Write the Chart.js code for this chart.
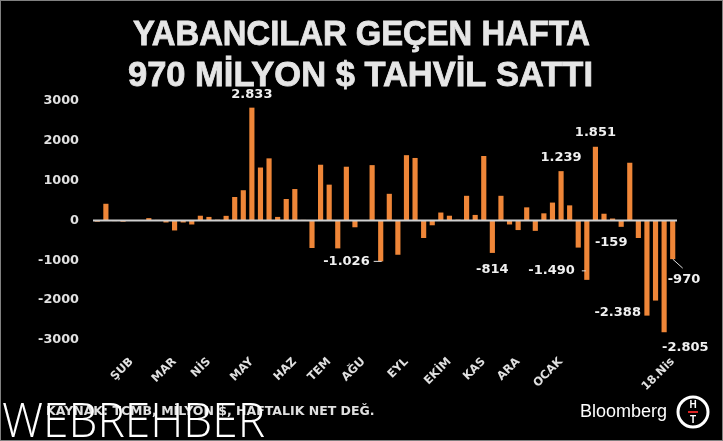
<!DOCTYPE html>
<html>
<head>
<meta charset="utf-8">
<script src="https://cdn.jsdelivr.net/npm/chart.js@4/dist/chart.umd.min.js"></script>
<style>
html,body{margin:0;padding:0;background:#000;}
#wrap{position:relative;width:723px;height:441px;overflow:hidden;background:#000;}
canvas{display:block;}
</style>
</head>
<body>
<div id="wrap"><canvas id="c" width="723" height="441"></canvas></div>
<script>
// ---- DATA ----
const titleLines = ['YABANCILAR GEÇEN HAFTA', '970 MİLYON $ TAHVİL SATTI'];
const sourceText = 'KAYNAK: TCMB, MİLYON $, HAFTALIK NET DEĞ.';
const brandText = 'Bloomberg';
const watermarkText = 'WEBREHBER';

// weekly net flows, million $
const weeklyFlows = [
  -30, 420, -15, -30, 0, 0, 60, 15, -50, -250,
  -50, -100, 120, 90, 20, 117, 590, 760, 2833, 1330,
  1560, 90, 540, 790, 15, -690, 1400, 900, -700, 1350,
  -170, 0, 1390, -1026, 670, -860, 1640, 1570, -440, -120,
  200, 120, 20, 620, 140, 1620, -814, 620, -100, -240,
  330, -260, 180, 450, 1239, 380, -680, -1490, 1851, 170,
  50, -159, 1450, -440, -2388, -2010, -2805, -970
];

// x-axis tick labels (week index -> label)
const tickIndex = [4, 9, 13, 18, 23, 27, 31, 36, 41, 45, 49, 54, 67];
const tickText  = ['ŞUB', 'MAR', 'NİS', 'MAY', 'HAZ', 'TEM', 'AĞU', 'EYL', 'EKİM', 'KAS', 'ARA', 'OCAK', '18.Nis'];

// y-axis ticks
const yTicks = [-3000, -2000, -1000, 0, 1000, 2000, 3000];

// annotated values
const noteIndex = [18, 33, 46, 54, 57, 58, 61, 64, 66, 67];
const noteText  = ['2.833', '-1.026', '-814', '1.239', '-1.490', '1.851', '-159', '-2.388', '-2.805', '-970'];

// ---- build ----
const categories = weeklyFlows.map((_, i) => {
  const k = tickIndex.indexOf(i);
  return k >= 0 ? tickText[k] : '';
});

// label placement styles (relative to bar end)
const notePlace = {
  18: {dx: 0, dy: -13, align: 'center'},
  33: {dx: -11, dy: 0, align: 'right', lead: [[-7, 0], [1, 0]]},
  46: {dx: 0, dy: 17, align: 'center'},
  54: {dx: 0, dy: -14, align: 'center'},
  57: {dx: -12, dy: -9, align: 'right', lead: [[-5, -9], [-1, -9]]},
  58: {dx: 0, dy: -14, align: 'center'},
  61: {dx: -10, dy: 16, align: 'center'},
  64: {dx: -6, dy: -3, align: 'right'},
  66: {dx: -2, dy: 15, align: 'left'},
  67: {dx: -5, dy: 20, align: 'left', lead: [[0, 0], [10, 9]]}
};

const zeroLine = {
  id: 'zeroLine',
  afterDatasetsDraw(chart) {
    const ctx = chart.ctx, y = chart.scales.y.getPixelForValue(0), a = chart.chartArea;
    ctx.save();
    ctx.strokeStyle = '#cfcfcf';
    ctx.lineWidth = 2;
    ctx.beginPath();
    ctx.moveTo(a.left, y);
    ctx.lineTo(a.right, y);
    ctx.stroke();
    ctx.restore();
  }
};

const deco = {
  id: 'deco',
  afterDraw(chart) {
    const ctx = chart.ctx;
    ctx.save();
    // title
    ctx.fillStyle = '#e6e6e6';
    ctx.strokeStyle = '#e6e6e6';
    ctx.lineWidth = 0.8;
    ctx.font = 'bold 35px "Liberation Sans", Arial, sans-serif';
    ctx.textAlign = 'center';
    ctx.textBaseline = 'alphabetic';
    const tW = [457, 465], tX = [361.5, 360.5], tY = [45, 86];
    titleLines.forEach((t, k) => {
      const w = ctx.measureText(t).width;
      ctx.save();
      ctx.translate(tX[k], tY[k]);
      ctx.scale(tW[k] / w, 1);
      ctx.fillText(t, 0, 0);
      ctx.strokeText(t, 0, 0);
      ctx.restore();
    });

    // value notes
    const meta = chart.getDatasetMeta(0);
    ctx.font = 'bold 13px "DejaVu Sans", sans-serif';
    ctx.textBaseline = 'middle';
    ctx.fillStyle = '#f0f0f0';
    ctx.strokeStyle = '#e0e0e0';
    ctx.lineWidth = 1;
    noteIndex.forEach((idx, k) => {
      const el = meta.data[idx];
      const p = notePlace[idx];
      ctx.textAlign = p.align;
      ctx.fillText(noteText[k], el.x + p.dx, el.y + p.dy);
      if (p.lead) {
        ctx.beginPath();
        ctx.moveTo(el.x + p.lead[0][0], el.y + p.lead[0][1]);
        ctx.lineTo(el.x + p.lead[1][0], el.y + p.lead[1][1]);
        ctx.stroke();
      }
    });

    // source
    ctx.textAlign = 'left';
    ctx.fillStyle = '#e0e0e0';
    ctx.font = 'bold 12.5px "DejaVu Sans", sans-serif';
    ctx.fillText(sourceText, 46, 412);

    // Bloomberg
    ctx.fillStyle = '#ffffff';
    ctx.font = '18px "Liberation Sans", Arial, sans-serif';
    ctx.fillText(brandText, 580, 412);

    // HT logo
    ctx.beginPath();
    ctx.arc(693, 412, 15, 0, Math.PI * 2);
    ctx.lineWidth = 3;
    ctx.strokeStyle = '#ffffff';
    ctx.stroke();
    ctx.font = 'bold 10px "Liberation Sans", Arial, sans-serif';
    ctx.textAlign = 'center';
    ctx.fillText('H', 693, 405);
    ctx.fillText('T', 693, 420);
    ctx.fillStyle = '#d22';
    ctx.fillRect(688, 411, 10, 2);

    // watermark
    ctx.fillStyle = '#ffffff';
    ctx.textAlign = 'left';
    ctx.textBaseline = 'alphabetic';
    ctx.font = '300 47px "Open Sans", sans-serif';
    const ww = ctx.measureText(watermarkText).width;
    ctx.save();
    ctx.translate(2, 437);
    ctx.scale(263 / ww, 1);
    ctx.fillText(watermarkText, 0, 0);
    ctx.restore();

    // frame
    ctx.strokeStyle = '#808080';
    ctx.lineWidth = 1;
    ctx.strokeRect(0.5, 0.5, 722, 440);
    ctx.restore();
  }
};

new Chart(document.getElementById('c'), {
  type: 'bar',
  data: {
    labels: categories,
    datasets: [{
      data: weeklyFlows,
      backgroundColor: '#EF8638',
      borderWidth: 0,
      barPercentage: 0.6,
      categoryPercentage: 1.0
    }]
  },
  options: {
    responsive: false,
    animation: false,
    devicePixelRatio: 1,
    layout: {padding: {top: 101, right: 46, bottom: 41, left: 0}},
    plugins: {legend: {display: false}, tooltip: {enabled: false}, title: {display: false}},
    scales: {
      x: {
        grid: {display: false, drawTicks: false},
        border: {display: false},
        ticks: {
          autoSkip: false, minRotation: 45, maxRotation: 45,
          color: '#e0e0e0', padding: 15,
          font: {family: '"DejaVu Sans", sans-serif', weight: 'bold', size: 11.5}
        },
        afterFit(s) { s.height = 60; }
      },
      y: {
        min: yTicks[0], max: yTicks[yTicks.length - 1],
        afterBuildTicks(s) { s.ticks = yTicks.map(v => ({value: v})); },
        ticks: {
          color: '#e0e0e0', padding: 14,
          font: {family: '"DejaVu Sans", sans-serif', weight: 'bold', size: 12.8},
          callback: v => String(v)
        },
        grid: {display: false, drawTicks: false},
        border: {display: false},
        afterFit(s) { s.width = 93; }
      }
    }
  },
  plugins: [zeroLine, deco]
});
</script>
</body>
</html>
